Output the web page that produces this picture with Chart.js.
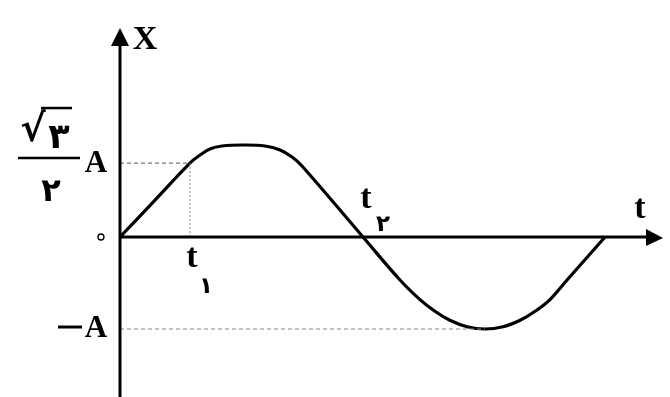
<!DOCTYPE html>
<html>
<head>
<meta charset="utf-8">
<script src="https://cdn.jsdelivr.net/npm/chart.js@4/dist/chart.umd.min.js"></script>
<style>
  html, body { margin: 0; padding: 0; background: #fff; }
  #wrap { width: 670px; height: 397px; position: relative; }
</style>
</head>
<body>
<div id="wrap"><canvas id="c" width="670" height="397"></canvas></div>
<script>
// Curve (t in quarter-periods, X in units of A)
const tValues = [0, 0.289, 0.577, 0.660, 0.742, 0.841, 1.014, 1.196, 1.320, 1.419, 1.501, 2.004,
                 2.309, 2.474, 2.600, 2.720, 2.862, 3.010, 3.160, 3.300, 3.420, 3.546, 3.687, 4.0];
const xValues = [0, 0.402, 0.804, 0.891, 0.957, 0.989, 1.0, 0.989, 0.946, 0.870, 0.772, 0,
                 -0.467, -0.680, -0.810, -0.905, -0.975, -1.0, -0.975, -0.905, -0.810, -0.680, -0.467, 0];
// Marked times and levels
const t1 = 0.577;
const t2 = 2.004;
const tTrough = 3.010;
const levelRoot3Over2 = 0.804;
const levelMinusA = -1;
// Axis extents
const tMax = 4.478;
const xMin = -1.739, xMax = 2.272;

const curve = tValues.map((t, i) => ({ x: t, y: xValues[i] }));
const dashTop = [{ x: 0, y: levelRoot3Over2 }, { x: t1, y: levelRoot3Over2 }];
const dashT1 = [{ x: t1, y: levelRoot3Over2 }, { x: t1, y: 0 }];
const dashBottom = [{ x: 0, y: levelMinusA }, { x: tTrough, y: levelMinusA }];

const axesPlugin = {
  id: 'axesPlugin',
  afterDatasetsDraw(chart) {
    const ctx = chart.ctx;
    const xs = chart.scales.x, ys = chart.scales.y;
    const ox = xs.getPixelForValue(0), oy = ys.getPixelForValue(0);
    const right = xs.getPixelForValue(tMax);
    const top = ys.getPixelForValue(xMax);
    const bottom = ys.getPixelForValue(xMin);
    ctx.save();
    ctx.strokeStyle = '#000';
    ctx.fillStyle = '#000';
    ctx.lineWidth = 3;
    // vertical axis
    ctx.beginPath(); ctx.moveTo(ox, bottom); ctx.lineTo(ox, top + 12); ctx.stroke();
    ctx.beginPath(); ctx.moveTo(ox, top); ctx.lineTo(ox - 9, top + 18); ctx.lineTo(ox + 9, top + 18); ctx.closePath(); ctx.fill();
    // horizontal axis
    ctx.beginPath(); ctx.moveTo(ox, oy); ctx.lineTo(right - 12, oy); ctx.stroke();
    ctx.beginPath(); ctx.moveTo(right, oy + 1); ctx.lineTo(right - 17, oy - 8); ctx.lineTo(right - 17, oy + 9); ctx.closePath(); ctx.fill();

    const serif = '"Liberation Serif", "DejaVu Serif", serif';
    const pers = '"DejaVu Sans", sans-serif';
    ctx.textBaseline = 'alphabetic';
    ctx.textAlign = 'center';
    // axis titles
    ctx.font = 'bold 34px ' + serif;
    ctx.fillText('X', ox + 25, top + 21);
    ctx.fillText('t', right - 23, oy - 19);
    // origin (Persian zero drawn as small circle like the reference)
    ctx.beginPath(); ctx.lineWidth = 1.3; ctx.arc(ox - 19, oy, 3, 0, Math.PI * 2); ctx.stroke();
    // t1 and t2
    const p1 = xs.getPixelForValue(t1);
    ctx.font = 'bold 34px ' + serif;
    ctx.fillText('t', p1 + 2, oy + 30);
    ctx.font = 'bold 23px ' + pers;
    ctx.fillText('۱', p1 + 16, oy + 56);
    const p2 = xs.getPixelForValue(t2);
    ctx.font = 'bold 34px ' + serif;
    ctx.fillText('t', p2 + 3, oy - 29);
    ctx.font = 'bold 23px ' + pers;
    ctx.fillText('۲', p2 + 20, oy - 6);
    // sqrt(3)/2 A
    const ly = ys.getPixelForValue(levelRoot3Over2);
    ctx.font = 'bold 31px ' + serif;
    ctx.fillText('A', ox - 24, ly + 9);
    ctx.lineWidth = 2.5;
    ctx.beginPath(); ctx.moveTo(ox - 102, ly - 5); ctx.lineTo(ox - 40, ly - 5); ctx.stroke();
    ctx.font = 'bold 32px ' + pers;
    ctx.fillText('۲', ox - 69, ly + 38);
    ctx.font = 'bold 35px ' + pers;
    ctx.fillText('۳', ox - 61, ly - 15);
    ctx.font = 'bold 38px ' + pers;
    ctx.fillText('√', ox - 87, ly - 22);
    ctx.lineWidth = 2.5;
    ctx.beginPath(); ctx.moveTo(ox - 79, ly - 55); ctx.lineTo(ox - 48, ly - 55); ctx.stroke();
    // -A
    const my = ys.getPixelForValue(levelMinusA);
    ctx.font = 'bold 31px ' + serif;
    ctx.fillText('A', ox - 24, my + 8);
    ctx.lineWidth = 3;
    ctx.beginPath(); ctx.moveTo(ox - 62, my - 2); ctx.lineTo(ox - 38, my - 2); ctx.stroke();
    ctx.restore();
  }
};

new Chart(document.getElementById('c'), {
  type: 'scatter',
  data: {
    datasets: [
      { data: dashTop, showLine: true, borderColor: '#777', borderWidth: 1.2, borderDash: [4, 3], pointRadius: 0, tension: 0 },
      { data: dashT1, showLine: true, borderColor: '#888', borderWidth: 1, borderDash: [2, 2], pointRadius: 0, tension: 0 },
      { data: dashBottom, showLine: true, borderColor: '#888', borderWidth: 1.2, borderDash: [4, 3], pointRadius: 0, tension: 0 },
      { data: curve, showLine: true, borderColor: '#000', borderWidth: 3.2, pointRadius: 0, tension: 0.4 }
    ]
  },
  options: {
    responsive: false,
    animation: false,
    devicePixelRatio: 1,
    layout: { padding: { left: 120, right: 7, top: 28, bottom: 0 } },
    plugins: { legend: { display: false }, tooltip: { enabled: false } },
    elements: { line: { capBezierPoints: false } },
    clip: false,
    scales: {
      x: { type: 'linear', min: 0, max: tMax, display: false },
      y: { type: 'linear', min: xMin, max: xMax, display: false }
    }
  },
  plugins: [axesPlugin]
});
</script>
</body>
</html>
